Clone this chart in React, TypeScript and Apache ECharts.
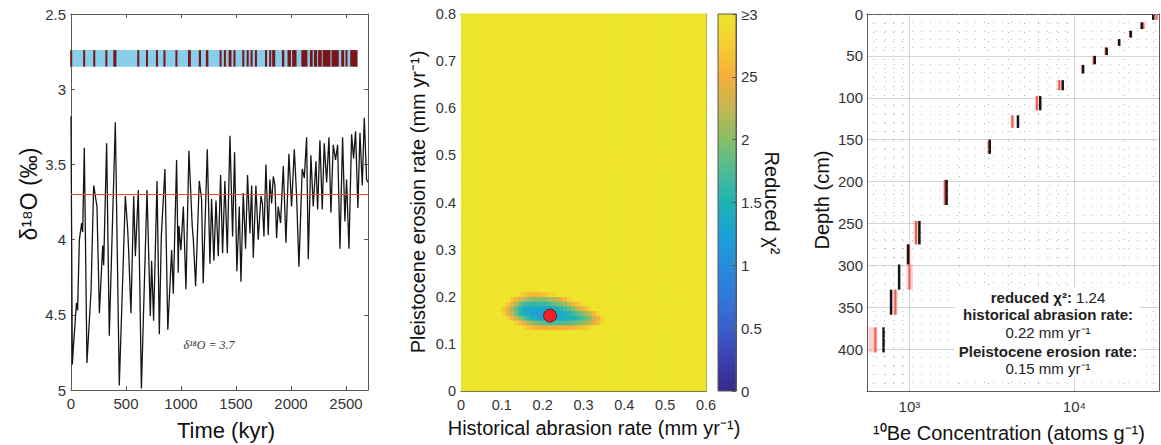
import React, { useEffect, useRef } from "react";
import * as echarts from "echarts";

const FONT = '"Liberation Sans", Arial, Helvetica, sans-serif';

// ---------- Panel 1: benthic δ18O record ----------
const timeKyr = [0,12,24,50,60,76,97,106,121,145,176,182,206,236,258,288,297,324,348,403,439,494,515,524,545,570,585,612,640,691,721,733,751,782,803,821,854,880,915,930,960,975,981,999,1021,1045,1072,1102,1112,1133,1166,1187,1202,1239,1263,1278,1299,1318,1339,1360,1378,1399,1421,1445,1469,1487,1508,1530,1545,1566,1587,1605,1627,1642,1657,1681,1702,1727,1740,1754,1772,1793,1808,1824,1839,1854,1869,1884,1905,1930,1954,1981,2005,2030,2051,2072,2102,2121,2142,2157,2181,2202,2227,2242,2263,2284,2302,2324,2345,2363,2384,2405,2424,2445,2469,2490,2505,2527,2551,2569,2587,2608,2627,2648,2666,2687,2700];
const d18O = [3.18,4.83,4.69,4.42,4.47,4.00,3.89,3.95,3.39,4.82,4.42,4.35,3.64,3.78,4.49,4.04,4.17,3.36,4.64,3.22,4.97,3.71,3.93,4.07,4.49,3.71,4.11,3.67,4.99,3.67,4.51,4.14,4.54,3.61,4.63,3.98,3.53,4.60,4.07,4.36,3.47,4.22,3.91,4.07,3.78,4.33,3.41,3.91,4.00,4.31,3.61,3.73,4.29,3.40,4.16,3.73,4.14,3.74,4.11,3.57,4.09,3.61,4.09,3.31,3.98,3.42,4.21,3.78,4.28,3.69,4.06,3.57,3.96,3.64,4.12,3.64,4.00,3.71,3.76,3.98,3.50,3.97,3.60,3.76,3.58,3.64,3.99,3.78,3.89,3.51,4.02,3.43,3.78,3.40,3.71,4.18,3.53,3.59,3.32,4.13,3.44,3.78,3.48,3.80,3.34,3.80,3.36,3.62,3.32,3.82,3.37,3.47,3.37,4.06,3.32,3.88,3.60,4.06,3.30,3.46,3.28,3.79,3.29,3.64,3.19,3.60,3.62];
const d18OThreshold = 3.7;
const barEndKyr = 2606;
const barTopValue = 2.74;
const barBottomValue = 2.85;
const timeTickInterval = 500;

// ---------- Panel 2: reduced chi-square misfit grid ----------
const cellSize = 0.01;
const nCellsX = 60;
const nCellsY = 80;
const chi2Cap = 3;
const blobRowY = [0.13, 0.14, 0.15, 0.16, 0.17, 0.18, 0.19, 0.20];
const blobRowX0 = [0.15, 0.13, 0.11, 0.10, 0.10, 0.11, 0.12, 0.14];
const blobRowValues = [
  [2.8,2.7,2.6,2.55,2.5,2.5,2.5,2.5,2.5,2.5,2.5,2.5,2.55,2.6,2.65,2.7,2.85],
  [2.8,2.6,2.4,2.2,2.05,1.95,1.85,1.8,1.75,1.75,1.75,1.75,1.75,1.8,1.85,1.9,2.0,2.1,2.25,2.45,2.6,2.85],
  [2.8,2.55,2.25,2.0,1.8,1.6,1.5,1.4,1.3,1.3,1.3,1.3,1.3,1.35,1.4,1.45,1.5,1.6,1.7,1.85,2.0,2.25,2.5,2.8],
  [2.8,2.5,2.2,1.9,1.6,1.4,1.3,1.2,1.2,1.2,1.2,1.2,1.25,1.3,1.35,1.45,1.55,1.65,1.8,1.95,2.1,2.3,2.55,2.8],
  [2.7,2.45,2.1,1.8,1.6,1.4,1.35,1.3,1.3,1.3,1.3,1.35,1.4,1.5,1.6,1.7,1.8,2.0,2.2,2.4,2.6,2.85],
  [2.7,2.45,2.2,1.9,1.7,1.6,1.6,1.6,1.6,1.6,1.7,1.8,1.9,2.0,2.1,2.3,2.5,2.65,2.85],
  [2.75,2.55,2.35,2.2,2.1,2.0,2.0,2.0,2.0,2.1,2.2,2.3,2.45,2.6,2.8],
  [2.85,2.7,2.6,2.55,2.55,2.6,2.65,2.75,2.85],
];
const bestFit = [0.218, 0.16];
const parula = ["#352A87", "#3B3FB0", "#3C5FCA", "#2E7AD8", "#288CDB", "#1BA2D4", "#1EB3B3", "#4DBB95", "#86BE66", "#C4B652", "#F7AE3A", "#F5CD32", "#EEE52B"];
const colorbarTicks = [0, 0.5, 1, 1.5, 2, 2.5, 3];
const colorbarLabels = ["0", "0.5", "1", "1.5", "2", "25", "≥3"];

// ---------- Panel 3: 10Be depth profile ----------
const depthTop = [0, 10, 20, 30, 40, 50, 61, 79, 98, 121, 150, 198, 247, 275, 299, 329, 374];
const depthBottom = [7, 18, 28, 38, 49, 60, 71, 91, 115, 136, 167, 228, 275, 299, 329, 359, 404];
const measuredBe = [30100, 25600, 22000, 18700, 15700, 13300, 11300, 8500, 6210, 4550, 3070, 1680, 1149, 982, 866, 774, 697];
const modeledBe = [31500, 26200, 21800, 18600, 15500, 13100, 11200, 8100, 5930, 4210, 3030, 1640, 1097, 990, 1000, 822, 621];
const modeledLo = [30800, 25700, 21400, 18300, 15200, 12850, 11000, 7800, 5750, 4100, 2950, 1600, 1057, 955, 960, 795, 565];
const modeledHi = [32200, 26700, 22200, 18900, 15800, 13350, 11400, 8400, 6100, 4350, 3100, 1700, 1170, 1020, 1050, 850, 641];
const minorConcGrid = [600, 700, 800, 900, 2000, 3000, 4000, 5000, 6000, 7000, 8000, 9000, 20000, 30000];
const concMin = 553;
const concMax = 32600;

function buildStripes(): number[][] {
  const out: number[][] = [];
  let start: number | null = d18O[0] < d18OThreshold ? timeKyr[0] : null;
  for (let i = 0; i < timeKyr.length - 1; i++) {
    const a = d18O[i], b = d18O[i + 1];
    const t0 = timeKyr[i], t1 = timeKyr[i + 1];
    const cross = t0 + ((d18OThreshold - a) / (b - a)) * (t1 - t0);
    if (a >= d18OThreshold && b < d18OThreshold) start = cross;
    else if (a < d18OThreshold && b >= d18OThreshold && start !== null) {
      out.push([start, cross]);
      start = null;
    }
  }
  if (start !== null) out.push([start, timeKyr[timeKyr.length - 1]]);
  return out.filter((s) => s[0] < barEndKyr).map((s) => [s[0], Math.min(s[1], barEndKyr)]);
}

function buildHeatCells(): number[][] {
  const cells: number[][] = [];
  for (let j = 0; j < nCellsY; j++)
    for (let i = 0; i < nCellsX; i++) cells.push([i * cellSize, j * cellSize, chi2Cap]);
  blobRowY.forEach((y, r) => {
    const j = Math.round(y / cellSize);
    const i0 = Math.round(blobRowX0[r] / cellSize);
    blobRowValues[r].forEach((v, k) => {
      cells[j * nCellsX + i0 + k][2] = v;
    });
  });
  return cells;
}

const axisLineColor = "#5a5a5a";
const tickLabelStyle = { color: "#333", fontSize: 15, fontFamily: FONT };
const plainFmt = (v: number) => String(v);

function boxAxis(extra: any) {
  return {
    type: "value",
    axisLine: { show: true, onZero: false, lineStyle: { color: axisLineColor, width: 1 } },
    axisTick: { show: true, inside: true, length: 4, lineStyle: { color: axisLineColor } },
    splitLine: { show: false },
    ...extra,
  };
}

function buildOption(): any {
  const stripes = buildStripes();
  const heatCells = buildHeatCells();
  const sampleData = depthTop.map((t, i) => [measuredBe[i], modeledBe[i], modeledLo[i], modeledHi[i], t, depthBottom[i]]);
  const supFmt = (v: number) => {
    const e = Math.round(Math.log10(v));
    return "10" + (e === 3 ? "³" : e === 4 ? "⁴" : String(e));
  };

  return {
    animation: false,
    textStyle: { fontFamily: FONT },
    grid: [
      { left: 71, top: 14, width: 297, height: 376 },
      { left: 461, top: 14, width: 245, height: 377 },
      { left: 718, top: 14, width: 18, height: 377 },
      { left: 867, top: 14, width: 292, height: 377 },
    ],
    xAxis: [
      boxAxis({ gridIndex: 0, position: "bottom", min: 0, max: 2700, interval: timeTickInterval,
        axisLabel: { ...tickLabelStyle, margin: 6, showMaxLabel: false, formatter: plainFmt } }),
      boxAxis({ gridIndex: 0, position: "top", min: 0, max: 2700, interval: timeTickInterval, axisLabel: { show: false } }),
      boxAxis({ gridIndex: 1, position: "bottom", min: 0, max: 0.6, interval: 0.1,
        axisTick: { show: false }, axisLabel: { ...tickLabelStyle, fontSize: 14.5, margin: 6 } }),
      boxAxis({ gridIndex: 1, position: "top", min: 0, max: 0.6, interval: 0.1, axisTick: { show: false }, axisLabel: { show: false } }),
      { gridIndex: 2, type: "value", min: 0, max: 1, show: false },
      {
        gridIndex: 3, type: "log", logBase: 10, min: concMin, max: concMax, position: "bottom",
        axisLine: { show: true, onZero: false, lineStyle: { color: axisLineColor } },
        axisTick: { show: false },
        axisLabel: { ...tickLabelStyle, margin: 8, showMinLabel: false, showMaxLabel: false, formatter: supFmt },
        splitLine: { show: true, lineStyle: { color: "#d4d4d4", width: 1 } },
      },
      {
        gridIndex: 3, type: "log", logBase: 10, min: concMin, max: concMax, position: "top",
        axisLine: { show: true, onZero: false, lineStyle: { color: axisLineColor } },
        axisTick: { show: false }, axisLabel: { show: false }, splitLine: { show: false },
      },
    ],
    yAxis: [
      boxAxis({ gridIndex: 0, position: "left", inverse: true, min: 2.5, max: 5, interval: 0.5,
        axisLabel: { ...tickLabelStyle, margin: 5 } }),
      boxAxis({ gridIndex: 0, position: "right", inverse: true, min: 2.5, max: 5, interval: 0.5, axisLabel: { show: false } }),
      boxAxis({ gridIndex: 1, position: "left", min: 0, max: 0.8, interval: 0.1,
        axisTick: { show: false }, axisLabel: { ...tickLabelStyle, fontSize: 14.5, margin: 5 } }),
      boxAxis({ gridIndex: 1, position: "right", min: 0, max: 0.8, interval: 0.1, axisTick: { show: false }, axisLabel: { show: false } }),
      boxAxis({ gridIndex: 2, position: "right", min: 0, max: 3, interval: 0.5, z: 10,
        axisTick: { show: true, inside: true, length: 4, lineStyle: { color: axisLineColor } },
        axisLabel: { ...tickLabelStyle, margin: 5,
          formatter: (v: number) => colorbarLabels[colorbarTicks.indexOf(v)] ?? String(v) } }),
      {
        gridIndex: 3, type: "value", position: "left", inverse: true, min: 0, max: 450, interval: 50,
        axisLine: { show: true, onZero: false, lineStyle: { color: axisLineColor } },
        axisTick: { show: false },
        axisLabel: { ...tickLabelStyle, margin: 4, showMaxLabel: false, formatter: plainFmt },
        splitLine: { show: true, lineStyle: { color: "#d4d4d4", width: 1 } },
        minorTick: { show: false, splitNumber: 5 },
        minorSplitLine: { show: true, lineStyle: { color: "#bdbdbd", width: 1, type: [1, 8] } },
      },
      {
        gridIndex: 3, type: "value", position: "right", inverse: true, min: 0, max: 450, interval: 50,
        axisLine: { show: true, onZero: false, lineStyle: { color: axisLineColor } },
        axisTick: { show: false }, axisLabel: { show: false }, splitLine: { show: false },
      },
    ],
    visualMap: [
      { type: "continuous", show: false, seriesIndex: 3, dimension: 2, min: 0, max: chi2Cap, inRange: { color: parula } },
    ],
    series: [
      {
        type: "custom", xAxisIndex: 0, yAxisIndex: 0, data: [[0, barEndKyr]], encode: { x: [0, 1] },
        renderItem: (_p: any, api: any) => {
          const a = api.coord([api.value(0), barTopValue]);
          const b = api.coord([api.value(1), barBottomValue]);
          return { type: "rect", shape: { x: Math.min(a[0], b[0]), y: Math.min(a[1], b[1]), width: Math.abs(b[0] - a[0]), height: Math.abs(b[1] - a[1]) }, style: { fill: "#87CEEB" } };
        },
      },
      {
        type: "custom", xAxisIndex: 0, yAxisIndex: 0, data: stripes, encode: { x: [0, 1] },
        renderItem: (_p: any, api: any) => {
          const a = api.coord([api.value(0), barTopValue]);
          const b = api.coord([api.value(1), barBottomValue]);
          let x = Math.min(a[0], b[0]);
          let w = Math.abs(b[0] - a[0]);
          if (w < 2) { x -= (2 - w) / 2; w = 2; }
          return { type: "rect", shape: { x, y: Math.min(a[1], b[1]), width: w, height: Math.abs(b[1] - a[1]) }, style: { fill: "#7B1518" } };
        },
      },
      {
        type: "line", xAxisIndex: 0, yAxisIndex: 0, showSymbol: false, symbol: "none",
        data: timeKyr.map((t, i) => [t, d18O[i]]),
        lineStyle: { color: "#151515", width: 1.3 },
        markLine: {
          silent: true, symbol: ["none", "none"], label: { show: false },
          lineStyle: { color: "#E8503A", width: 1.2, type: "solid" },
          data: [{ yAxis: d18OThreshold }],
        },
      },
      {
        type: "custom", xAxisIndex: 2, yAxisIndex: 2, data: heatCells, encode: { x: 0, y: 1 }, clip: true,
        renderItem: (_p: any, api: any) => {
          const x = api.value(0), y = api.value(1);
          const p0 = api.coord([x, y]);
          const p1 = api.coord([x + cellSize, y + cellSize]);
          return {
            type: "rect",
            shape: { x: p0[0], y: p1[1] - 0.4, width: p1[0] - p0[0] + 0.6, height: p0[1] - p1[1] + 0.6 },
            style: { fill: api.visual("color") },
          };
        },
      },
      {
        type: "scatter", xAxisIndex: 2, yAxisIndex: 2, data: [bestFit], symbolSize: 13,
        itemStyle: { color: "#EC2227", borderColor: "#5a1010", borderWidth: 0.8, opacity: 1 },
      },
      {
        type: "custom", xAxisIndex: 4, yAxisIndex: 4, data: [[0, 0, 1, chi2Cap]], encode: { x: [0, 2], y: [1, 3] },
        renderItem: (_p: any, api: any) => {
          const p0 = api.coord([api.value(0), api.value(1)]);
          const p1 = api.coord([api.value(2), api.value(3)]);
          const stops = parula.map((c, k) => ({ offset: k / (parula.length - 1), color: c }));
          return {
            type: "rect",
            shape: { x: p0[0], y: p1[1], width: p1[0] - p0[0], height: p0[1] - p1[1] },
            style: { fill: new echarts.graphic.LinearGradient(0, 1, 0, 0, stops), stroke: axisLineColor, lineWidth: 1 },
          };
        },
      },
      {
        type: "line", xAxisIndex: 5, yAxisIndex: 5, data: [], z: 1,
        markLine: {
          silent: true, symbol: ["none", "none"], label: { show: false },
          lineStyle: { color: "#b0b0b0", width: 1, type: [1, 8] },
          data: minorConcGrid.map((v) => ({ xAxis: v })),
        },
      },
      {
        type: "custom", xAxisIndex: 5, yAxisIndex: 5, data: sampleData, clip: true, z: 3,
        encode: { x: [0, 1, 2, 3], y: [4, 5] },
        renderItem: (_p: any, api: any) => {
          const yTop = api.coord([1000, api.value(4)])[1];
          const yBot = api.coord([1000, api.value(5)])[1];
          const xMeas = api.coord([api.value(0), 0])[0];
          const xMod = api.coord([api.value(1), 0])[0];
          const xLo = api.coord([api.value(2), 0])[0];
          const xHi = api.coord([api.value(3), 0])[0];
          return {
            type: "group",
            children: [
              { type: "rect", shape: { x: xLo, y: yTop, width: Math.max(xHi - xLo, 3), height: yBot - yTop }, style: { fill: "rgba(247,160,155,0.45)" } },
              { type: "line", shape: { x1: xMod, y1: yTop, x2: xMod, y2: yBot }, style: { stroke: "#EF5A4C", lineWidth: 2 } },
              { type: "line", shape: { x1: xMeas, y1: yTop, x2: xMeas, y2: yBot }, style: { stroke: "#151515", lineWidth: 2.5 } },
            ],
          };
        },
      },
    ],
    graphic: [
      { type: "text", x: 29, y: 194, rotation: Math.PI / 2, style: { text: "δ¹⁸O (‰)", fontSize: 23, fontFamily: FONT, fill: "#111", align: "center", verticalAlign: "middle" } },
      { type: "text", x: 226, y: 430, style: { text: "Time (kyr)", fontSize: 22, fontFamily: FONT, fill: "#111", align: "center", verticalAlign: "middle" } },
      { type: "text", x: 209, y: 345, style: { text: "δ¹⁸O = 3.7", fontSize: 12, fontStyle: "italic", fontFamily: '"Liberation Serif", "Times New Roman", serif', fill: "#333", align: "center", verticalAlign: "middle" } },
      { type: "text", x: 418, y: 202, rotation: Math.PI / 2, style: { text: "Pleistocene erosion rate (mm yr⁻¹)", fontSize: 20, fontFamily: FONT, fill: "#111", align: "center", verticalAlign: "middle" } },
      { type: "text", x: 594, y: 428, style: { text: "Historical abrasion rate (mm yr⁻¹)", fontSize: 20, fontFamily: FONT, fill: "#111", align: "center", verticalAlign: "middle" } },
      { type: "text", x: 772, y: 203, rotation: -Math.PI / 2, style: { text: "Reduced χ²", fontSize: 20, fontFamily: FONT, fill: "#111", align: "center", verticalAlign: "middle" } },
      { type: "text", x: 822, y: 200, rotation: Math.PI / 2, style: { text: "Depth (cm)", fontSize: 20, fontFamily: FONT, fill: "#111", align: "center", verticalAlign: "middle" } },
      { type: "text", x: 1009, y: 433, style: { text: "¹⁰Be Concentration (atoms g⁻¹)", fontSize: 20, fontFamily: FONT, fill: "#111", align: "center", verticalAlign: "middle" } },
      { type: "rect", shape: { x: 955, y: 287, width: 185, height: 91 }, style: { fill: "#fff" }, z: 50 },
      { type: "text", x: 1048, y: 297, z: 51, style: { text: "{b|reduced χ²:} 1.24", rich: { b: { fontWeight: "bold", fontSize: 15, fontFamily: FONT, fill: "#222" } }, fontSize: 15, fontFamily: FONT, fill: "#222", align: "center", verticalAlign: "middle" } },
      { type: "text", x: 1048, y: 314, z: 51, style: { text: "historical abrasion rate:", fontWeight: "bold", fontSize: 15, fontFamily: FONT, fill: "#222", align: "center", verticalAlign: "middle" } },
      { type: "text", x: 1048, y: 332, z: 51, style: { text: "0.22 mm yr⁻¹", fontSize: 15, fontFamily: FONT, fill: "#222", align: "center", verticalAlign: "middle" } },
      { type: "text", x: 1048, y: 351, z: 51, style: { text: "Pleistocene erosion rate:", fontWeight: "bold", fontSize: 15, fontFamily: FONT, fill: "#222", align: "center", verticalAlign: "middle" } },
      { type: "text", x: 1048, y: 368, z: 51, style: { text: "0.15 mm yr⁻¹", fontSize: 15, fontFamily: FONT, fill: "#222", align: "center", verticalAlign: "middle" } },
    ],
  };
}

export default function App() {
  const ref = useRef<HTMLDivElement>(null);
  useEffect(() => {
    document.body.style.margin = "0";
    const chart = echarts.init(ref.current as HTMLDivElement, null, { renderer: "svg" });
    chart.setOption(buildOption());
    return () => chart.dispose();
  }, []);
  return <div ref={ref} style={{ width: 1161, height: 445, position: "absolute", left: 0, top: 0, background: "#fff" }} />;
}
